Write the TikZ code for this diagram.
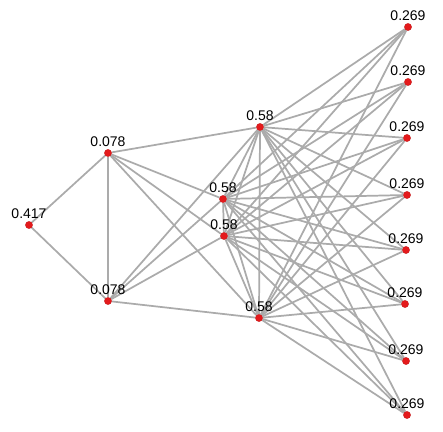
\documentclass[tikz,border=0pt]{standalone}
\usepackage{fontspec}
\setmainfont{Liberation Sans}
\usetikzlibrary{backgrounds}

\begin{document}
\begin{tikzpicture}[x=0.75pt,y=-0.75pt]
  \colorlet{edgegray}{black!33}
  \definecolor{vertexred}{RGB}{228,26,28}
  \tikzset{
    vertex/.style={circle,fill=vertexred,draw=vertexred!85!black,line width=0.25pt,inner sep=0pt,minimum size=5.4pt},
    score/.style={font=\fontsize{10.5}{12}\selectfont,inner sep=0pt,label distance=1.6pt},
    link/.style={draw=edgegray,line width=1.3pt}
  }
  \useasboundingbox (0,0) rectangle (443,432);

  % left part
  \node[vertex,label={[score]above:0.417}] (a) at (29,225) {};
  \node[vertex,label={[score]above:0.078}] (b) at (108,153) {};
  \node[vertex,label={[score]above:0.078}] (c) at (108,301) {};

  % middle block
  \node[vertex,label={[score]above:0.58}] (d) at (260,127) {};
  \node[vertex,label={[score]above:0.58}] (e) at (223,199) {};
  \node[vertex,label={[score]above:0.58}] (f) at (224,236) {};
  \node[vertex,label={[score]above:0.58}] (g) at (259,318) {};

  % right column
  \node[vertex,label={[score]above:0.269}] (r1) at (408,27) {};
  \node[vertex,label={[score]above:0.269}] (r2) at (408,82) {};
  \node[vertex,label={[score]above:0.269}] (r3) at (407,138) {};
  \node[vertex,label={[score]above:0.269}] (r4) at (407,195) {};
  \node[vertex,label={[score]above:0.269}] (r5) at (406,250) {};
  \node[vertex,label={[score]above:0.269}] (r6) at (405,304) {};
  \node[vertex,label={[score]above:0.269}] (r7) at (406,361) {};
  \node[vertex,label={[score]above:0.269}] (r8) at (407,415) {};

  \begin{pgfonlayer}{background}
    \draw[link] (a) -- (b) -- (c) -- (a);
    \foreach \u in {b,c}
      \foreach \v in {d,e,f,g}
        \draw[link] (\u) -- (\v);
    \foreach \u/\v in {d/e,d/f,d/g,e/f,e/g,f/g}
      \draw[link] (\u) -- (\v);
    \foreach \u in {d,e,f,g}
      \foreach \i in {1,...,8}
        \draw[link] (\u) -- (r\i);
  \end{pgfonlayer}
\end{tikzpicture}
\end{document}
